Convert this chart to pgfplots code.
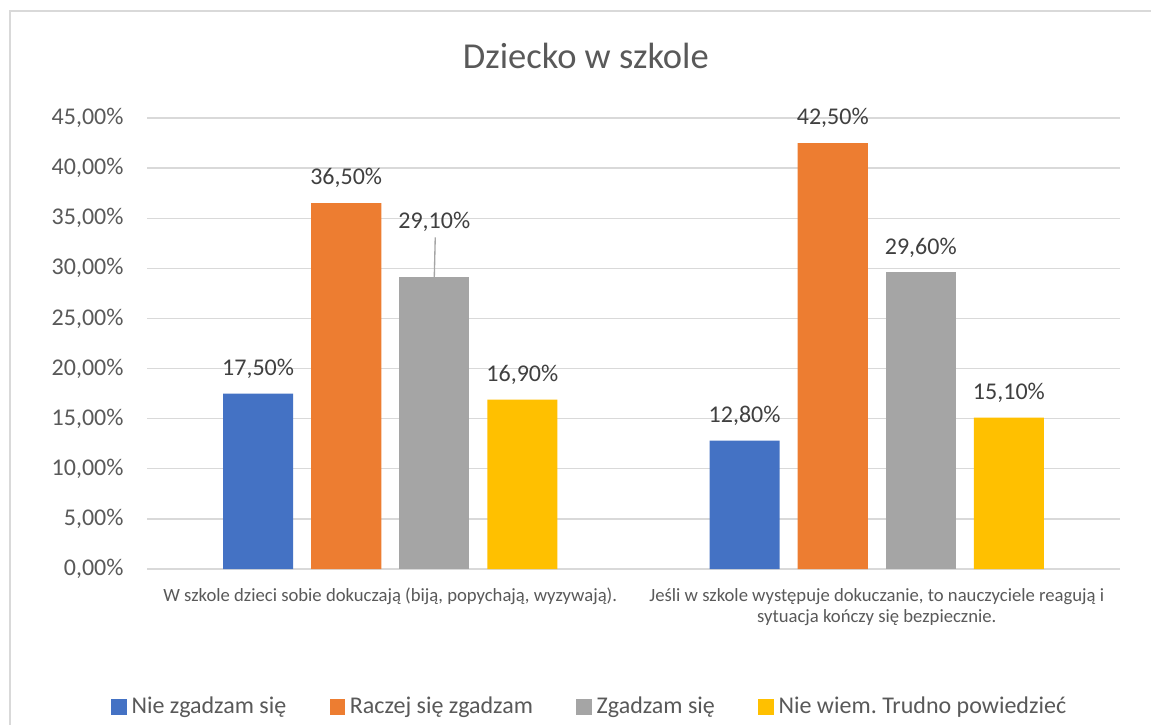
\documentclass[border=0pt]{standalone}
\usepackage{fontspec}
\setmainfont{Carlito}
\usepackage{pgfplots}
\pgfplotsset{compat=1.18}
\definecolor{cblue}{HTML}{4472C4}
\definecolor{corange}{HTML}{ED7D31}
\definecolor{cgray}{HTML}{A5A5A5}
\definecolor{cyellow}{HTML}{FFC000}
\definecolor{gridc}{HTML}{D9D9D9}
\definecolor{txt}{HTML}{595959}
\definecolor{lbl}{HTML}{404040}
\frenchspacing
\begin{document}
\begin{tikzpicture}
\useasboundingbox (0,0) rectangle (431.625pt,271.5pt);
\fill[white] (0,0) rectangle (431.625pt,271.5pt);
\draw[gridc, line width=0.5pt] (3.75pt,-10pt) rectangle (445pt,267.375pt);
\begin{axis}[
  at={(55.125pt,58.125pt)}, anchor=south west,
  scale only axis, width=364.875pt, height=169.125pt,
  xmin=-0.5, xmax=1.5, ymin=0, ymax=45,
  ytick={0,5,...,45},
  xtick={0,1},
  xticklabels={{W szkole dzieci sobie dokuczają (biją, popychają, wyzywają).},
    {Jeśli w szkole występuje dokuczanie, to nauczyciele reagują i\\sytuacja kończy się bezpiecznie.}},
  axis line style={draw=none},
  tick style={draw=none},
  major tick length=0pt,
  ymajorgrids,
  grid style={draw=gridc, line width=0.5pt},
  /pgf/number format/assume math mode=true,
  yticklabel={\pgfmathprintnumber[fixed,fixed zerofill,precision=2,use comma]{\tick}\%},
  yticklabel style={font=\fontsize{9}{10}\selectfont, text=txt, anchor=east, inner sep=0pt, xshift=-8.6pt},
  xticklabel style={font=\fontsize{7}{8}\selectfont, text=txt, align=center, anchor=north, inner sep=0pt, yshift=-7pt},
  title={Dziecko w szkole},
  title style={at={(0.451,1)}, anchor=base, yshift=12.5pt, font=\fontsize{13.7}{15}\selectfont, text=txt, inner sep=0pt},
  point meta=y,
  nodes near coords={\pgfmathprintnumber[fixed,fixed zerofill,precision=2,use comma]{\pgfplotspointmeta}\%},
  every node near coord/.append style={font=\fontsize{9}{10}\selectfont, text=lbl, inner sep=0pt, yshift=5.5pt},
  legend columns=4,
  legend style={at={(0.4565,-0.306)}, anchor=center, draw=none, fill=none,
    font=\fontsize{9}{10}\selectfont, text=txt, inner sep=0pt,
    /tikz/every even column/.append style={column sep=14.5pt},
    nodes={inner sep=1.8pt}},
  legend image code/.code={\fill[#1,draw=none] (0pt,-2.9pt) rectangle (5.8pt,2.9pt);},
]
\addplot[ybar, bar width=0.144, bar shift=0pt, fill=cblue, draw=none] coordinates {(-0.2716,17.5) (0.7284,12.8)};
\addlegendentry{Nie zgadzam się}
\addplot[ybar, bar width=0.144, bar shift=0pt, fill=corange, draw=none] coordinates {(-0.0905,36.5) (0.9095,42.5)};
\addlegendentry{Raczej się zgadzam}
\addplot[ybar, bar width=0.144, bar shift=0pt, fill=cgray, draw=none] coordinates {(1.0905,29.6)};
\addlegendentry{Zgadzam się}
\addplot[ybar, bar width=0.144, bar shift=0pt, fill=cyellow, draw=none] coordinates {(0.2716,16.9) (1.2716,15.1)};
\addlegendentry{Nie wiem. Trudno powiedzieć}
\addplot[ybar, bar width=0.144, bar shift=0pt, fill=cgray, draw=none, forget plot,
  every node near coord/.append style={yshift=11.5pt}] coordinates {(0.0905,29.1)};
\draw[cgray, line width=0.5pt] (axis cs:0.0905,29.1) -- (axis cs:0.0925,33.1);
\end{axis}
\end{tikzpicture}
\end{document}
